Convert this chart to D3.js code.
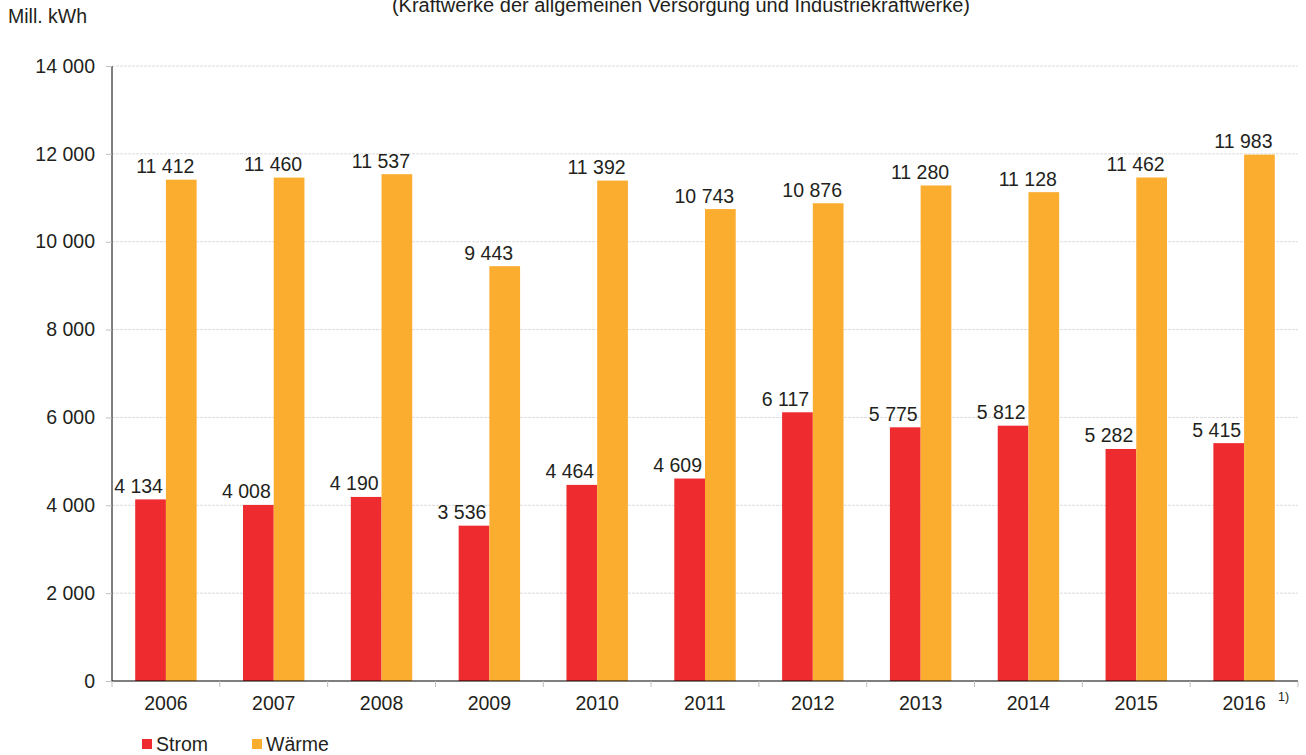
<!DOCTYPE html>
<html lang="de">
<head>
<meta charset="UTF-8">
<title>Strom und Wärme</title>
<script src="https://d3js.org/d3.v7.min.js"></script>
<style>
  body { margin: 0; background: #fff; }
  svg { font-family: "Liberation Sans", Arial, sans-serif; }
  .grid line { stroke: #dcdcdc; stroke-dasharray: 3,1; }
  text { fill: #231f20; }
</style>
</head>
<body>
<svg width="1306" height="755"></svg>
<script>
const years = ["2006", "2007", "2008", "2009", "2010", "2011", "2012", "2013", "2014", "2015", "2016"];
const strom = [4134, 4008, 4190, 3536, 4464, 4609, 6117, 5775, 5812, 5282, 5415];
const waerme = [11412, 11460, 11537, 9443, 11392, 10743, 10876, 11280, 11128, 11462, 11983];
const yTicks = [0, 2000, 4000, 6000, 8000, 10000, 12000, 14000];
const seriesNames = ["Strom", "Wärme"];
const colors = ["#ee2c30", "#fbad30"];

const svg = d3.select("svg");
const plotLeft = 112, plotRight = 1298, plotTop = 66, plotBottom = 681;
const fs = 19.5;
// Beschriftungen sitzen im Original etwas links von der Balkenmitte
const labelNudge = [-12, -16];

// Tausender mit Leerzeichen
const fmt = v => d3.format(",")(v).replace(/,/g, " ");

const x = d3.scaleBand().domain(years).range([plotLeft, plotRight]);
const inner = d3.scaleBand().domain(seriesNames).range([0, x.bandwidth()]).paddingInner(0).paddingOuter(0.755);
const y = d3.scaleLinear().domain([0, 14000]).range([plotBottom, plotTop]);

// Titel (oben abgeschnitten wie im Original)
svg.append("text")
  .attr("x", 681).attr("y", 12)
  .attr("text-anchor", "middle")
  .attr("font-size", 20)
  .text("(Kraftwerke der allgemeinen Versorgung und Industriekraftwerke)");

svg.append("text")
  .attr("x", 8).attr("y", 23)
  .attr("font-size", fs)
  .text("Mill. kWh");

// Gitterlinien
svg.append("g").attr("class", "grid")
  .selectAll("line")
  .data(yTicks.filter(d => d > 0))
  .enter().append("line")
  .attr("x1", plotLeft).attr("x2", plotRight)
  .attr("y1", d => y(d)).attr("y2", d => y(d));

// y-Achse
const yAxis = svg.append("g")
  .attr("transform", `translate(${plotLeft},0)`)
  .call(d3.axisLeft(y).tickValues(yTicks).tickFormat(fmt).tickSize(6).tickPadding(11));
yAxis.select(".domain").attr("stroke", "#000").attr("d", `M0,${plotTop}V${plotBottom}`);
yAxis.selectAll(".tick line").attr("stroke", "#bfbfbf");
yAxis.selectAll(".tick text").attr("font-size", fs).attr("fill", "#231f20").attr("font-family", "Liberation Sans, Arial, sans-serif");

// Balken
const data = years.map((yr, i) => ({ year: yr, values: [strom[i], waerme[i]] }));
const groups = svg.append("g").selectAll("g")
  .data(data)
  .enter().append("g")
  .attr("transform", d => `translate(${x(d.year)},0)`);

groups.selectAll("rect")
  .data(d => d.values.map((v, j) => ({ key: seriesNames[j], value: v, j })))
  .enter().append("rect")
  .attr("x", d => inner(d.key))
  .attr("width", inner.bandwidth())
  .attr("y", d => y(d.value))
  .attr("height", d => plotBottom - y(d.value))
  .attr("fill", d => colors[d.j]);

groups.selectAll("text.val")
  .data(d => d.values.map((v, j) => ({ key: seriesNames[j], value: v, j })))
  .enter().append("text")
  .attr("class", "val")
  .attr("x", d => inner(d.key) + inner.bandwidth() / 2 + labelNudge[d.j])
  .attr("y", d => y(d.value) - 6.5)
  .attr("text-anchor", "middle")
  .attr("font-size", fs)
  .text(d => fmt(d.value));

// x-Achse
const xAxis = svg.append("g")
  .attr("transform", `translate(0,${plotBottom})`);
xAxis.append("line")
  .attr("x1", plotLeft).attr("x2", plotRight)
  .attr("stroke", "#000").attr("stroke-width", 1.2);
xAxis.selectAll("line.tk")
  .data(years.map(d => x(d)).concat([plotRight]))
  .enter().append("line")
  .attr("class", "tk")
  .attr("x1", d => d).attr("x2", d => d)
  .attr("y1", 0).attr("y2", 6)
  .attr("stroke", "#bfbfbf");
xAxis.selectAll("text")
  .data(years)
  .enter().append("text")
  .attr("x", d => x(d) + x.bandwidth() / 2)
  .attr("y", 29)
  .attr("text-anchor", "middle")
  .attr("font-size", fs)
  .text(d => d);

// Fußnote
svg.append("text")
  .attr("x", 1278)
  .attr("y", 701)
  .attr("font-size", 12.5)
  .text("1)");

// Legende
const legend = svg.append("g").attr("transform", "translate(142,739)");
const legendX = [0, 110];
seriesNames.forEach((name, i) => {
  legend.append("rect")
    .attr("x", legendX[i]).attr("y", 0)
    .attr("width", 10).attr("height", 10)
    .attr("fill", colors[i]);
  legend.append("text")
    .attr("x", legendX[i] + 14).attr("y", 12)
    .attr("font-size", fs)
    .text(name);
});
</script>
</body>
</html>
